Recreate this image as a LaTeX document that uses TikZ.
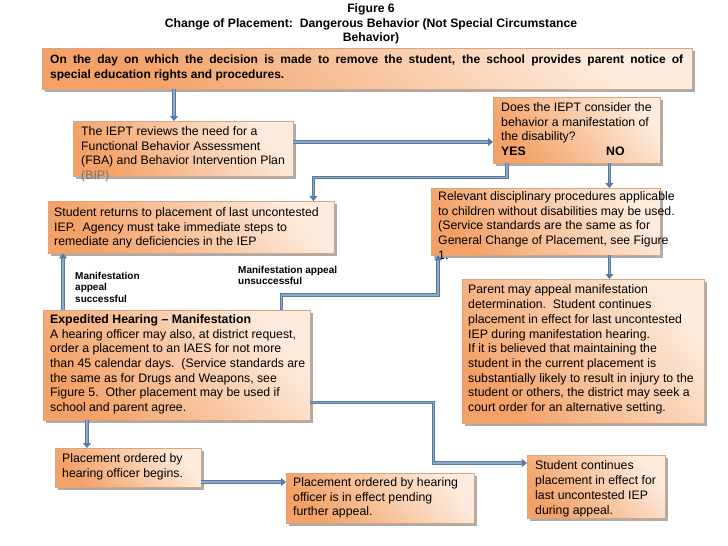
\documentclass[tikz,border=0pt]{standalone}
\usepackage{fontspec}
\setmainfont{Liberation Sans}
\usetikzlibrary{shadows,arrows.meta}

\definecolor{boxdark}{HTML}{F3A166}
\definecolor{boxlight}{HTML}{FDEBDD}
\definecolor{boxline}{HTML}{D9A47E}
\definecolor{conndark}{HTML}{56799F}
\definecolor{connlight}{HTML}{8CA9CB}

\begin{document}
\begin{tikzpicture}[x=1pt,y=-1pt]
    \tikzstyle{box}=[rectangle,anchor=north west,inner sep=0pt,draw=boxline,line width=0.4pt,top color=boxlight,bottom color=boxdark,shading angle=-50,drop shadow={shadow xshift=2.5pt,shadow yshift=-2.5pt,fill=black!55,opacity=0.6}]
    \tikzstyle{txt}=[anchor=north west,align=left,inner sep=0pt,font=\fontsize{12.3}{14.7}\selectfont]
    \tikzstyle{note}=[anchor=north west,align=left,inner sep=0pt,font=\fontsize{10}{11.5}\selectfont\bfseries]
    \tikzstyle{conn}=[draw=conndark,line width=0.9pt,double=connlight,double distance=1.8pt,-{Triangle[length=5pt,width=8pt]}]
    \useasboundingbox (0,0) rectangle (728,546);

    \node[align=center,inner sep=0pt,font=\fontsize{12.2}{14.5}\selectfont\bfseries] (title) at (371,24)
      {Figure 6\\Change of Placement:\ \ Dangerous Behavior (Not Special Circumstance\\Behavior)};

    \node[box,minimum width=650pt,minimum height=41pt] (top) at (42,48) {};
    \node[txt,font=\fontsize{12}{15}\selectfont\bfseries] (top-t) at ([xshift=8pt,yshift=-4.5pt]top.north west)
      {\strut\makebox[633pt][s]{On the day on which the decision is made to remove the student, the school provides parent notice of}\\
       special education rights and procedures.};

    \node[box,minimum width=220pt,minimum height=55pt] (iept) at (73,121) {};
    \node[txt] (iept-t) at ([xshift=8pt,yshift=-4pt]iept.north west)
      {\strut The IEPT reviews the need for a\\Functional Behavior Assessment\\(FBA) and Behavior Intervention Plan\\\textcolor{black!55}{(BIP)}};

    \node[box,minimum width=167pt,minimum height=66pt] (manif) at (493,97) {};
    \node[txt] (manif-t) at ([xshift=8pt,yshift=-4pt]manif.north west)
      {\strut Does the IEPT consider the\\behavior a manifestation of\\the disability?\\\makebox[105pt][l]{\textbf{YES}}\textbf{NO}};

    \node[box,minimum width=286pt,minimum height=52pt] (returns) at (48,201) {};
    \node[txt] (returns-t) at ([xshift=6pt,yshift=-5pt]returns.north west)
      {\strut Student returns to placement of last uncontested\\IEP.\ \ Agency must take immediate steps to\\remediate any deficiencies in the IEP};

    \node[box,minimum width=229pt,minimum height=67pt] (relevant) at (431,188) {};
    \node[txt] (relevant-t) at ([xshift=7pt,yshift=-2pt]relevant.north west)
      {\strut Relevant disciplinary procedures applicable\\to children without disabilities may be used.\\(Service standards are the same as for\\General Change of Placement, see Figure\\1.};

    \node[box,minimum width=242pt,minimum height=144pt] (parent) at (462,279) {};
    \node[txt] (parent-t) at ([xshift=6pt,yshift=-4.5pt]parent.north west)
      {\strut Parent may appeal manifestation\\determination.\ \ Student continues\\placement in effect for last uncontested\\IEP during manifestation hearing.\\If it is believed that maintaining the\\student in the current placement is\\substantially likely to result in injury to the\\student or others, the district may seek a\\court order for an alternative setting.};

    \node[box,minimum width=267pt,minimum height=110pt] (hearing) at (43,310) {};
    \node[txt] (hearing-t) at ([xshift=7pt,yshift=-3pt]hearing.north west)
      {\strut\textbf{Expedited Hearing -- Manifestation}\\A hearing officer may also, at district request,\\order a placement to an IAES for not more\\than 45 calendar days.\ \ (Service standards are\\the same as for Drugs and Weapons, see\\Figure 5.\ \ Other placement may be used if\\school and parent agree.};

    \node[box,minimum width=146pt,minimum height=39pt] (begins) at (55,448) {};
    \node[txt] (begins-t) at ([xshift=7pt,yshift=-4pt]begins.north west)
      {\strut Placement ordered by\\hearing officer begins.};

    \node[box,minimum width=188pt,minimum height=50pt] (pending) at (286,473) {};
    \node[txt] (pending-t) at ([xshift=7pt,yshift=-3pt]pending.north west)
      {\strut Placement ordered by hearing\\officer is in effect pending\\further appeal.};

    \node[box,minimum width=138pt,minimum height=63pt] (continues) at (527,455) {};
    \node[txt] (continues-t) at ([xshift=8pt,yshift=-4.5pt]continues.north west)
      {\strut Student continues\\placement in effect for\\last uncontested IEP\\during appeal.};

    \node[note] (succ) at (75,272) {Manifestation\\appeal\\successful};
    \node[note] (fail) at (238,266) {Manifestation appeal\\unsuccessful};

    \draw[conn] (top.south -| iept.north west) ++(101,0) coordinate (c1) -- (c1 |- iept.north);
    \draw[conn] (iept.north east) ++(0,21) coordinate (c2) -- (c2 -| manif.west);
    \draw[conn] (manif.south west) ++(14,0) -- ++(0,14) -| ([xshift=-21pt]returns.north east);
    \draw[conn] (manif.south east) ++(-51,0) coordinate (c3) -- (c3 |- relevant.north);
    \draw[conn] (relevant.south east) ++(-51,0) coordinate (c4) -- (c4 |- parent.north);
    \draw[conn] (hearing.north west) ++(20,0) coordinate (c5) -- (c5 |- returns.south);
    \draw[conn] (hearing.north east) ++(-29,0) -- ++(0,-15) -| ([xshift=7pt]relevant.south west);
    \draw[conn] (hearing.south east) ++(0,-18) -- ++(123,0) |- ([yshift=-8pt]continues.north west);
    \draw[conn] (hearing.south west) ++(44,0) coordinate (c6) -- (c6 |- begins.north);
    \draw[conn] (begins.north east) ++(0,34) coordinate (c7) -- (c7 -| pending.west);
\end{tikzpicture}
\end{document}
